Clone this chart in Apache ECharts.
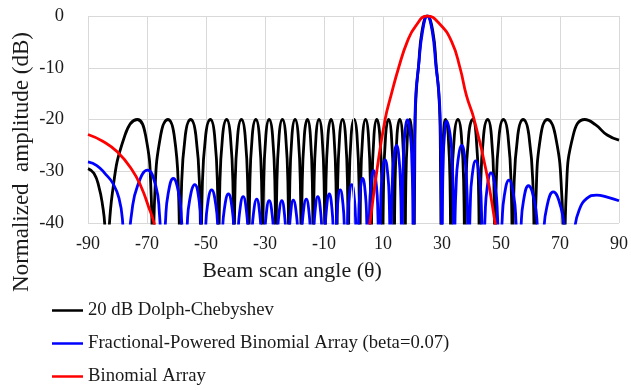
<!DOCTYPE html>
<html>
<head>
<meta charset="utf-8">
<script src="https://cdn.jsdelivr.net/npm/echarts@6/dist/echarts.min.js"></script>
<style>
  html, body { margin: 0; padding: 0; background: #fff; }
  #chart { width: 631px; height: 390px; }
</style>
</head>
<body>
<div id="chart"></div>
<script>
// [angle (deg), normalized amplitude (dB)]; nulls sit below -40 and get clipped
const dolphChebyshev = [
  [-90, -29.5], [-88, -30.4], [-86.3, -33], [-85, -36.8], [-84.3, -40.5], [-83.8, -50],
  [-81.8, -34.5], [-77.45, -23], [-73.3, -20], [-70.5, -23], [-68.6, -34.5], [-68, -50],
  [-67.35, -34.5], [-65.35, -23], [-62.9, -20], [-60.8, -23], [-59.3, -34.5], [-58.8, -50],
  [-58.37, -34.5], [-57, -23], [-55.2, -20], [-53.45, -23], [-52.12, -34.5], [-51.7, -50],
  [-51.32, -34.5], [-50.1, -23], [-48.5, -20], [-47.1, -23], [-46.04, -34.5], [-45.7, -50],
  [-45.38, -34.5], [-44.35, -23], [-43, -20], [-41.75, -23], [-40.8, -34.5], [-40.5, -50],
  [-40.2, -34.5], [-39.25, -23], [-38, -20], [-36.75, -23], [-35.8, -34.5], [-35.5, -50],
  [-35.21, -34.5], [-34.3, -23], [-33.1, -20], [-31.95, -23], [-31.08, -34.5], [-30.8, -50],
  [-30.54, -34.5], [-29.7, -23], [-28.6, -20], [-27.45, -23], [-26.58, -34.5], [-26.3, -50],
  [-26.04, -34.5], [-25.2, -23], [-24.1, -20], [-23, -23], [-22.16, -34.5], [-21.9, -50],
  [-21.65, -34.5], [-20.85, -23], [-19.8, -20], [-18.75, -23], [-17.95, -34.5], [-17.7, -50],
  [-17.45, -34.5], [-16.65, -23], [-15.6, -20], [-14.63, -23], [-13.88, -34.5], [-13.65, -50],
  [-13.42, -34.5], [-12.68, -23], [-11.7, -20], [-10.68, -23], [-9.9, -34.5], [-9.65, -50],
  [-9.4, -34.5], [-8.63, -23], [-7.6, -20], [-6.63, -23], [-5.88, -34.5], [-5.65, -50],
  [-5.42, -34.5], [-4.68, -23], [-3.7, -20], [-2.73, -23], [-1.98, -34.5], [-1.75, -50],
  [-1.52, -34.5], [-0.78, -23], [0.2, -20], [1.18, -23], [1.92, -34.5], [2.15, -50],
  [2.38, -34.5], [3.13, -23], [4.1, -20], [5.05, -23], [5.77, -34.5], [6, -50],
  [6.23, -34.5], [6.95, -23], [7.9, -20], [8.9, -23], [9.66, -34.5], [9.9, -50],
  [10.14, -34.5], [10.9, -23], [11.9, -20], [12.85, -23], [13.57, -34.5], [13.8, -50],
  [14.03, -34.5], [14.75, -23], [15.7, -20], [16.6, -23], [17.28, -34.5], [17.5, -50],
  [17.69, -34.5], [18.3, -23], [19.1, -20], [19.78, -23], [20.29, -34.5], [20.45, -50],
  [20.75, -30], [20.9, -20], [21.3, -14.5], [22, -10], [23.2, -3], [25, 0],
  [26.9, -3], [28.1, -10], [28.85, -14.5], [29.3, -20], [29.5, -30], [29.8, -50],
  [29.97, -34.5], [30.5, -23], [31.2, -20], [32.1, -23], [32.78, -34.5], [33, -50],
  [33.29, -34.5], [34.2, -23], [35.4, -20], [36.55, -23], [37.42, -34.5], [37.7, -50],
  [38.02, -34.5], [39.05, -23], [40.4, -20], [41.55, -23], [42.42, -34.5], [42.7, -50],
  [43.04, -34.5], [44.1, -23], [45.5, -20], [46.73, -23], [47.66, -34.5], [47.95, -50],
  [48.29, -34.5], [49.38, -23], [50.8, -20], [52.35, -23], [53.53, -34.5], [53.9, -50],
  [54.33, -34.5], [55.7, -23], [57.5, -20], [59.45, -23], [60.93, -34.5], [61.4, -50],
  [61.9, -34.5], [63.5, -23], [65.7, -20], [68.4, -23], [70.6, -34.5], [71.4, -50],
  [72.1, -34.5], [74.5, -23], [78.4, -20], [82, -21], [86, -23], [90, -24]
]

const fractionalBinomial = [
  [-90, -28.2], [-87, -28.9], [-84, -30.6], [-81.5, -32.4], [-79.5, -35.2], [-78.3, -39.5], [-77.5, -50],
  [-75.2, -38.1], [-73.2, -32.8], [-69.8, -29.8], [-67.05, -32.8], [-65.8, -38.1], [-64.6, -50],
  [-63.73, -39.7], [-62.85, -34.4], [-61.1, -31.4], [-59.2, -34.4], [-58.25, -39.7], [-57.3, -50],
  [-56.43, -40.9], [-55.55, -35.6], [-53.8, -32.6], [-52.35, -35.6], [-51.63, -40.9], [-50.9, -50],
  [-50.2, -41.9], [-49.5, -36.6], [-48.1, -33.6], [-46.65, -36.6], [-45.93, -41.9], [-45.2, -50],
  [-44.5, -42.7], [-43.8, -37.4], [-42.4, -34.4], [-41.1, -37.4], [-40.45, -42.7], [-39.8, -50],
  [-39.2, -43.2], [-38.6, -37.9], [-37.4, -34.9], [-36.25, -37.9], [-35.68, -43.2], [-35.1, -50],
  [-34.53, -43.7], [-33.95, -38.4], [-32.8, -35.4], [-31.75, -38.4], [-31.23, -43.7], [-30.7, -50],
  [-30.18, -44], [-29.65, -38.7], [-28.6, -35.7], [-27.5, -38.7], [-26.95, -44], [-26.4, -50],
  [-25.88, -44], [-25.35, -38.7], [-24.3, -35.7], [-23.33, -38.7], [-22.84, -44], [-22.35, -50],
  [-21.86, -43.9], [-21.38, -38.6], [-20.4, -35.6], [-19.3, -38.6], [-18.75, -43.9], [-18.2, -50],
  [-17.65, -43.7], [-17.1, -38.4], [-16, -35.4], [-15, -38.4], [-14.5, -43.7], [-14, -50],
  [-13.53, -43.2], [-13.05, -37.9], [-12.1, -34.9], [-11.13, -37.9], [-10.64, -43.2], [-10.15, -50],
  [-9.66, -42.7], [-9.18, -37.4], [-8.2, -34.4], [-7.28, -37.4], [-6.81, -42.7], [-6.35, -50],
  [-5.89, -41.9], [-5.43, -36.6], [-4.5, -33.6], [-3.53, -36.6], [-3.04, -41.9], [-2.55, -50],
  [-2.06, -40.9], [-1.58, -35.6], [-0.6, -32.6], [0.33, -35.6], [0.79, -40.9], [1.25, -50],
  [1.71, -39.7], [2.18, -34.4], [3.1, -31.4], [4.03, -34.4], [4.49, -39.7], [4.95, -50],
  [5.41, -38.2], [5.88, -32.9], [6.8, -29.9], [7.78, -32.9], [8.26, -38.2], [8.75, -50],
  [9.24, -36.1], [9.73, -30.8], [10.7, -27.8], [11.65, -30.8], [12.13, -36.1], [12.6, -50],
  [12.84, -39.5], [13.1, -33.3], [13.6, -28], [14.6, -25], [15.5, -28], [15.95, -33.3], [16.18, -39.5], [16.4, -50],
  [16.63, -34.6], [16.88, -28.4], [17.35, -23.1], [18.3, -20.1], [19.3, -23.1], [19.8, -28.4], [20.06, -34.6], [20.3, -50],
  [20.6, -30], [20.85, -20], [21.2, -14.5], [22, -10], [23.4, -3], [25, 0],
  [26.7, -3], [28, -10], [28.9, -14.5], [29.4, -20], [29.7, -30], [30, -50],
  [30.19, -34.8], [30.4, -28.6], [30.8, -23.3], [31.6, -20.3], [32.85, -23.3], [33.48, -28.6], [33.8, -34.8], [34.1, -50],
  [34.41, -39.5], [34.75, -33.3], [35.4, -28], [36.7, -25], [37.85, -28], [38.43, -33.3], [38.72, -39.5], [39, -50],
  [39.6, -36.3], [40.2, -31], [41.4, -28], [42.68, -31], [43.31, -36.3], [43.95, -50],
  [44.61, -38.6], [45.28, -33.3], [46.6, -30.3], [48.08, -33.3], [48.81, -38.6], [49.55, -50],
  [50.34, -40], [51.13, -34.7], [52.7, -31.7], [54.3, -34.7], [55.1, -40], [55.9, -50],
  [56.75, -41.1], [57.6, -35.8], [59.3, -32.8], [61.35, -35.8], [62.38, -41.1], [63.4, -50],
  [64.4, -42.3], [65.5, -37], [67.7, -34], [70.3, -37], [71.75, -42.3], [73.3, -50],
  [75, -41], [76.5, -37.5], [79, -35.3], [82.4, -34.6], [86, -35], [90, -35.7]
]

const binomial = [
  [-90, -22.9], [-85, -24.2], [-80, -26.3], [-75, -29.8], [-72, -33], [-69.5, -36.8],
  [-67.6, -40], [-66.5, -43], [-60, -48], [4.6, -48], [5, -43],
  [5.6, -40], [7.9, -30], [10.7, -20], [12.7, -15.4], [15.3, -10], [18.2, -5], [21, -2],
  [25, 0], [29.3, -1.6], [33.3, -5], [36.1, -10], [38.3, -15.4], [40.9, -20],
  [45, -30], [48, -40], [48.7, -43]
]

const seriesNames = [
  '20 dB Dolph-Chebyshev',
  'Fractional-Powered Binomial Array (beta=0.07)',
  'Binomial Array'
]
const seriesColors = ['#000000', '#0000ff', '#ff0000']

const serif = 'Liberation Serif, Times New Roman, serif'
const textColor = '#1a1a1a'
const gridColor = '#d9d9d9'

const chart = echarts.init(document.getElementById('chart'))

function curve(name, data, color) {
  return {
    name,
    type: 'line',
    data,
    smooth: 0.5,
    symbol: 'none',
    clip: true,
    lineStyle: { color, width: 2.8 },
    itemStyle: { color },
    emphasis: { disabled: true }
  }
}

chart.setOption({
  animation: false,
  grid: { left: 88, right: 12, top: 16, bottom: 167 },
  xAxis: {
    type: 'value',
    min: -90,
    max: 90,
    interval: 20,
    axisLine: { show: false },
    axisTick: { show: false },
    axisLabel: { color: textColor, fontFamily: serif, fontSize: 18, margin: 12 },
    splitLine: { show: true, lineStyle: { color: gridColor, width: 1 } }
  },
  yAxis: {
    type: 'value',
    min: -40,
    max: 0,
    interval: 10,
    axisLine: { show: false },
    axisTick: { show: false },
    axisLabel: { color: textColor, fontFamily: serif, fontSize: 18.5, margin: 24 },
    splitLine: { show: true, lineStyle: { color: gridColor, width: 1 } }
  },
  legend: {
    data: seriesNames,
    orient: 'vertical',
    left: 52,
    top: 301,
    icon: 'rect',
    itemWidth: 31,
    itemHeight: 2.5,
    itemGap: 14,
    padding: 0,
    textStyle: { color: textColor, fontFamily: serif, fontSize: 18.7 }
  },
  graphic: [
    {
      type: 'text',
      x: 292,
      y: 271,
      style: {
        text: 'Beam scan angle (θ)',
        font: '22px ' + serif,
        fill: textColor,
        textAlign: 'center',
        textVerticalAlign: 'middle'
      }
    },
    {
      type: 'text',
      x: 22,
      y: 162,
      rotation: Math.PI / 2,
      style: {
        text: 'Normalized  amplitude (dB)',
        font: '23px ' + serif,
        fill: textColor,
        textAlign: 'center',
        textVerticalAlign: 'middle'
      }
    }
  ],
  series: [
    {
      // vertical axis line crossing at 0 deg
      name: 'zero',
      type: 'line',
      data: [[0, -50]],
      symbol: 'none',
      silent: true,
      z: 1,
      markLine: {
        silent: true,
        symbol: 'none',
        label: { show: false },
        lineStyle: { color: gridColor, width: 1, type: 'solid' },
        data: [{ xAxis: 0 }]
      }
    },
    curve(seriesNames[0], dolphChebyshev, seriesColors[0]),
    curve(seriesNames[1], fractionalBinomial, seriesColors[1]),
    curve(seriesNames[2], binomial, seriesColors[2])
  ]
})
</script>
</body>
</html>
